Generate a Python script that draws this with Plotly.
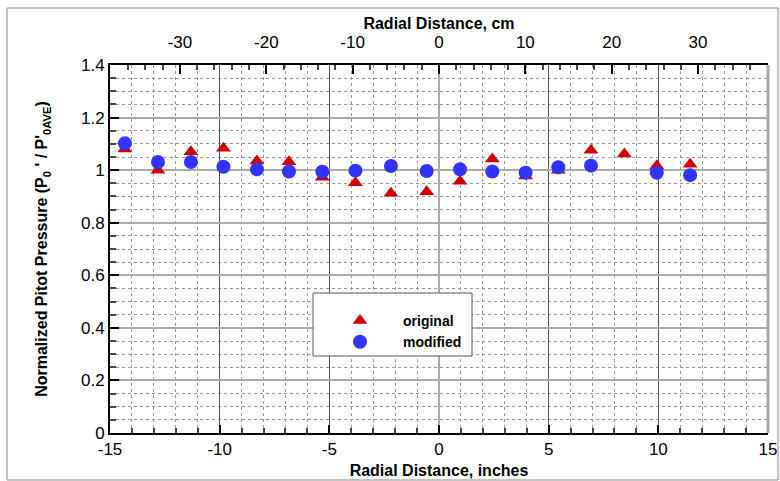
import plotly.graph_objects as go

# Radial positions (inches)
x_in = [-14.32, -12.81, -11.31, -9.83, -8.30, -6.84, -5.32, -3.81, -2.19, -0.56,
        0.96, 2.43, 3.95, 5.44, 6.93, 8.45, 9.93, 11.45]
original = [1.080, 1.000, 1.070, 1.083, 1.035, 1.032, 0.973, 0.952, 0.912, 0.918,
            0.958, 1.042, 0.978, 1.000, 1.076, 1.061, 1.017, 1.022]
x_mod = [-14.32, -12.81, -11.31, -9.83, -8.30, -6.84, -5.32, -3.81, -2.19, -0.56,
         0.96, 2.43, 3.95, 5.44, 6.93, 9.93, 11.45]
modified = [1.102, 1.031, 1.031, 1.013, 1.003, 0.995, 0.994, 0.998, 1.016, 0.997,
            1.003, 0.995, 0.990, 1.011, 1.017, 0.990, 0.981]

cm_ticks = [-30, -20, -10, 0, 10, 20, 30]
cm_labels = ["-30", "-20", "-10", "0", "10", "20", "30"]
in_ticks = [-15, -10, -5, 0, 5, 10, 15]
in_labels = ["-15", "-10", "-5", "0", "5", "10", "15"]
y_ticks = [0, 0.2, 0.4, 0.6, 0.8, 1.0, 1.2, 1.4]
y_labels = ["0", "0.2", "0.4", "0.6", "0.8", "1", "1.2", "1.4"]

FONT = "Liberation Sans, Arial, sans-serif"
W, H = 780, 481
L, R, T, B = 110, 12, 65, 48

fig = go.Figure()
fig.add_trace(go.Scatter(x=x_in, y=original, mode="markers", name="<b>original</b>",
                         marker=dict(symbol="triangle-up", size=13, color="#d00000")))
fig.add_trace(go.Scatter(x=x_mod, y=modified, mode="markers", name="<b>modified</b>",
                         marker=dict(symbol="circle", size=14, color="#3333ff")))
# invisible trace to activate top axis
fig.add_trace(go.Scatter(x=[0], y=[None], xaxis="x2", yaxis="y", showlegend=False,
                         mode="markers", hoverinfo="skip"))

def px_to_paper_x(px):
    return (px - L) / (W - L - R)

def px_to_paper_y(py):
    return (H - B - py) / (H - T - B)

fig.update_layout(
    width=W, height=H,
    margin=dict(l=L, r=R, t=T, b=B, autoexpand=False),
    paper_bgcolor="white", plot_bgcolor="white",
    font=dict(family=FONT, size=17, color="black"),
    xaxis=dict(
        range=[-15, 15], tickvals=in_ticks, ticktext=in_labels, ticks="inside", ticklen=8, tickwidth=2,
        tickcolor="black", showline=True, linecolor="black", linewidth=2, mirror=False,
        showgrid=True, gridcolor="#555555", gridwidth=1, automargin=False,
        zeroline=True, zerolinecolor="#aaaaaa", zerolinewidth=2,
        minor=dict(dtick=1, ticks="inside", ticklen=5, tickcolor="#444", showgrid=True,
                   gridcolor="#999999", griddash="dot", gridwidth=1),
        title=dict(text="<b>Radial Distance, inches</b>", font=dict(size=16), standoff=6),
        tickfont=dict(size=17),
    ),
    xaxis2=dict(
        range=[-15 * 2.54, 15 * 2.54], overlaying="x", side="top", automargin=False,
        tickvals=cm_ticks, ticktext=cm_labels, ticks="inside", ticklen=9, tickwidth=2, tickcolor="black",
        showline=True, linecolor="black", linewidth=2, showgrid=False, zeroline=False,
        minor=dict(dtick=2, ticks="inside", ticklen=5, tickcolor="#444", showgrid=False),
        title=dict(text="<b>Radial Distance, cm</b>", font=dict(size=16), standoff=0),
        tickfont=dict(size=17), ticklabelstandoff=8,
    ),
    yaxis=dict(
        range=[0, 1.4], tickvals=y_ticks, ticktext=y_labels, automargin=False,
        ticks="inside", ticklen=9, tickwidth=2, tickcolor="black",
        showline=True, linecolor="black", linewidth=2, zeroline=False,
        showgrid=True, gridcolor="#aaaaaa", gridwidth=2,
        minor=dict(dtick=0.05, ticks="inside", ticklen=6, tickcolor="#444", showgrid=True,
                   gridcolor="#999999", griddash="dot", gridwidth=1),
        title=dict(text="<b>Normalized Pitot Pressure (P<sub>0</sub> ' / P'<sub>0AVE</sub>)</b>",
                   font=dict(size=16), standoff=29),
        tickfont=dict(size=17),
    ),
    showlegend=True,
    legend=dict(x=px_to_paper_x(317), y=px_to_paper_y(305), xanchor="left", yanchor="top",
                bgcolor="rgba(0,0,0,0)", borderwidth=0, itemwidth=76,
                font=dict(size=14, family=FONT, color="black"), tracegroupgap=0),
    shapes=[
        # right border of plot
        dict(type="line", xref="paper", yref="paper", x0=1, x1=1, y0=0, y1=1,
             line=dict(color="#aaaaaa", width=3)),
        # darker horizontal grid lines
        dict(type="line", xref="paper", yref="y", x0=0, x1=1, y0=1.0, y1=1.0,
             line=dict(color="#555555", width=1), layer="below"),
        dict(type="line", xref="paper", yref="y", x0=0, x1=1, y0=0.4, y1=0.4,
             line=dict(color="#555555", width=1), layer="below"),
        # legend box
        dict(type="rect", xref="paper", yref="paper",
             x0=px_to_paper_x(313), x1=px_to_paper_x(472),
             y0=px_to_paper_y(356), y1=px_to_paper_y(293),
             fillcolor="white", line=dict(color="#555555", width=1), layer="above"),
        # outer frame
        dict(type="rect", xref="paper", yref="paper",
             x0=px_to_paper_x(7), x1=px_to_paper_x(778),
             y0=px_to_paper_y(480), y1=px_to_paper_y(8),
             line=dict(color="#888888", width=1)),
    ],
)

fig.write_html("out.html")
